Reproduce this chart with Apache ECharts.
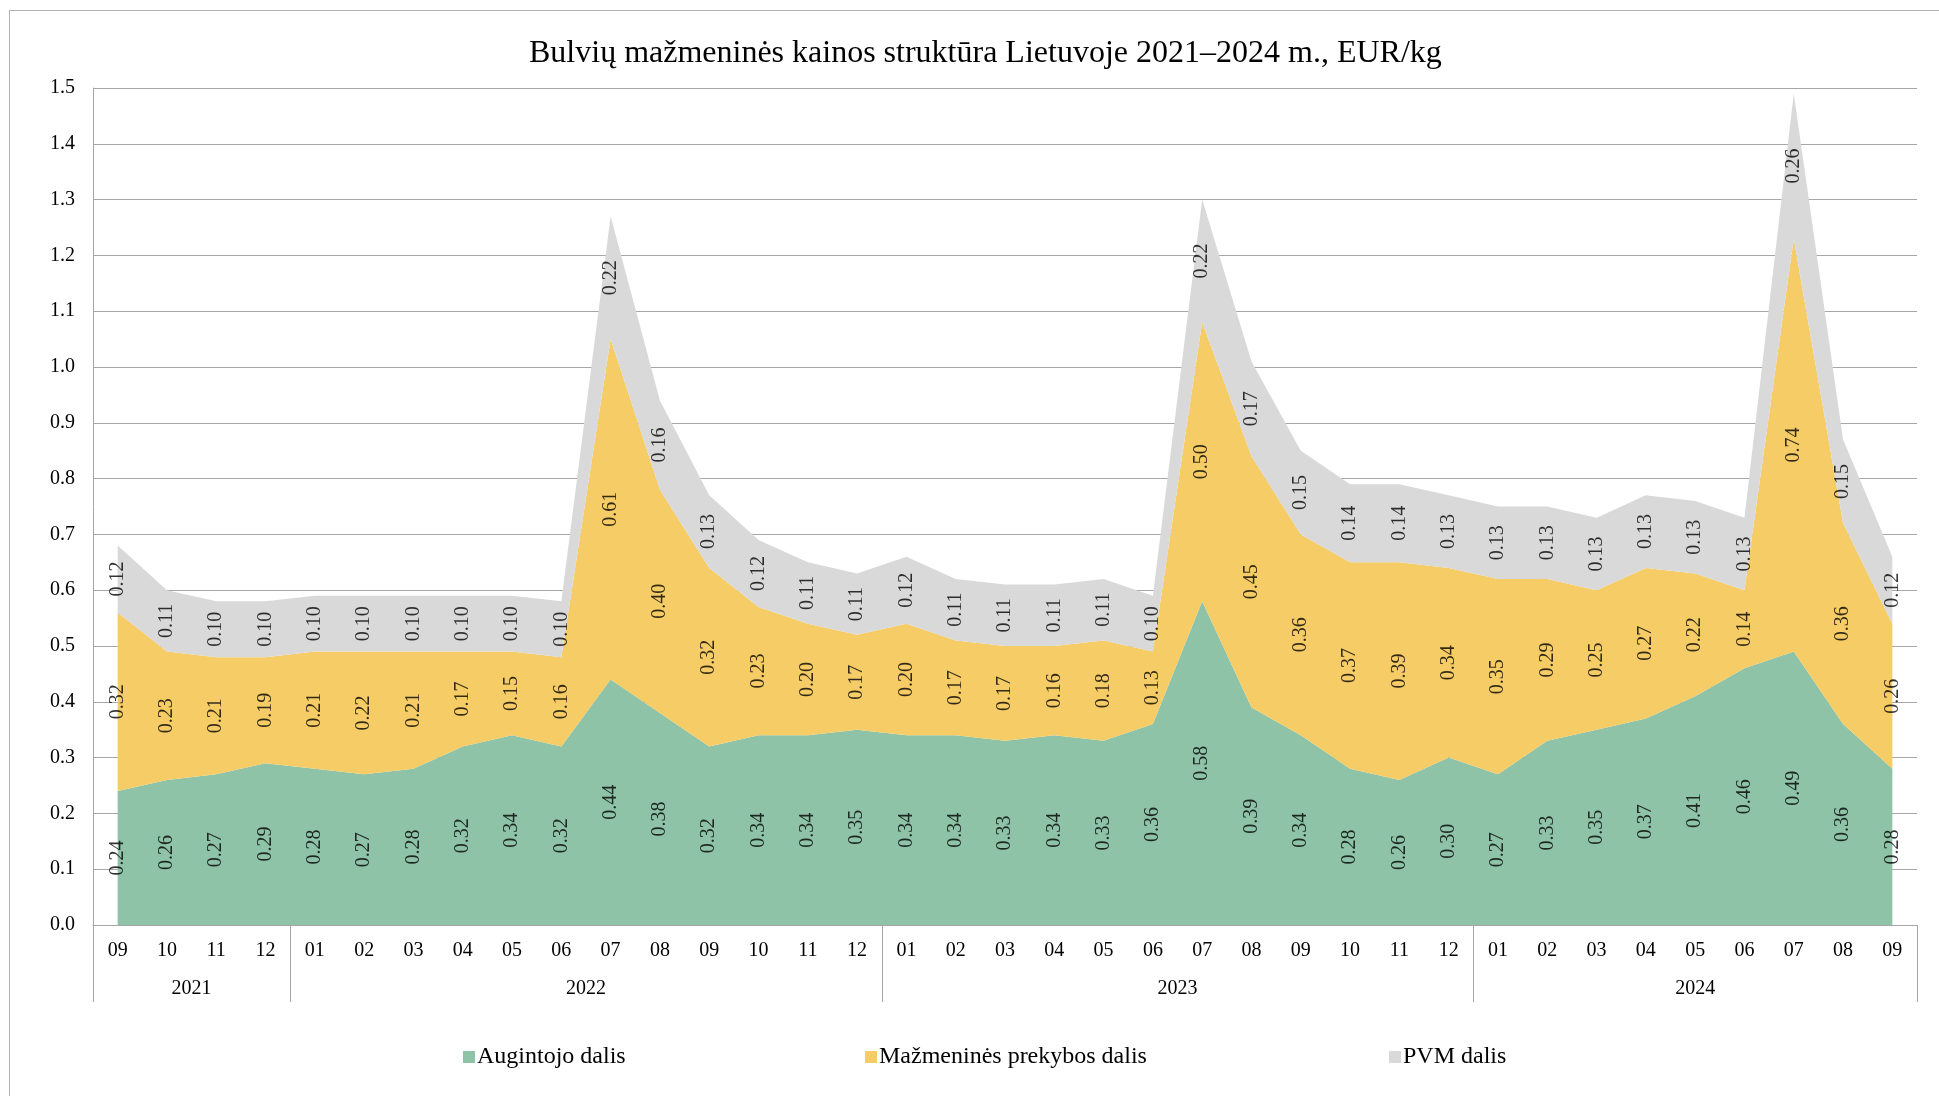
<!DOCTYPE html>
<html>
<head>
<meta charset="utf-8">
<script src="https://cdn.jsdelivr.net/npm/echarts@6/dist/echarts.min.js"></script>
<style>
  html, body { margin: 0; padding: 0; background: #fff; }
  #chart { width: 1939px; height: 1096px; }
  .frame {
    position: absolute; left: 9px; top: 10px; right: -2px; bottom: -2px;
    border-left: 1px solid #b3b3b3; border-top: 1px solid #b3b3b3;
    pointer-events: none;
  }
</style>
</head>
<body>
<div id="chart"></div>
<div class="frame"></div>
<script>
const months = [
  '09', '10', '11', '12',
  '01', '02', '03', '04', '05', '06', '07', '08', '09', '10', '11', '12',
  '01', '02', '03', '04', '05', '06', '07', '08', '09', '10', '11', '12',
  '01', '02', '03', '04', '05', '06', '07', '08', '09'
]
const years = ['2021', '2022', '2023', '2024']
const monthsPerYear = [4, 12, 12, 9]

const grower = [
  0.24, 0.26, 0.27, 0.29,
  0.28, 0.27, 0.28, 0.32, 0.34, 0.32, 0.44, 0.38, 0.32, 0.34, 0.34, 0.35,
  0.34, 0.34, 0.33, 0.34, 0.33, 0.36, 0.58, 0.39, 0.34, 0.28, 0.26, 0.30,
  0.27, 0.33, 0.35, 0.37, 0.41, 0.46, 0.49, 0.36, 0.28
]
const retail = [
  0.32, 0.23, 0.21, 0.19,
  0.21, 0.22, 0.21, 0.17, 0.15, 0.16, 0.61, 0.40, 0.32, 0.23, 0.20, 0.17,
  0.20, 0.17, 0.17, 0.16, 0.18, 0.13, 0.50, 0.45, 0.36, 0.37, 0.39, 0.34,
  0.35, 0.29, 0.25, 0.27, 0.22, 0.14, 0.74, 0.36, 0.26
]
const vat = [
  0.12, 0.11, 0.10, 0.10,
  0.10, 0.10, 0.10, 0.10, 0.10, 0.10, 0.22, 0.16, 0.13, 0.12, 0.11, 0.11,
  0.12, 0.11, 0.11, 0.11, 0.11, 0.10, 0.22, 0.17, 0.15, 0.14, 0.14, 0.13,
  0.13, 0.13, 0.13, 0.13, 0.13, 0.13, 0.26, 0.15, 0.12
]

const names = ['Augintojo dalis', 'Mažmeninės prekybos dalis', 'PVM dalis']
const colors = ['#8ec3a7', '#f5cc65', '#d9d9d9']
const font = 'Liberation Serif, Times New Roman, serif'
const gridColor = '#a6a6a6'

// year row: half-month slots, so group edges and centres land on slots
const yearSlots = new Array(months.length * 2 + 1).fill('')
const yearTicks = [0]
let start = 0
years.forEach((y, i) => {
  yearSlots[start * 2 + monthsPerYear[i]] = y
  start += monthsPerYear[i]
  yearTicks.push(start * 2)
})

const chart = echarts.init(document.getElementById('chart'))

const areaSeries = (name, data, color) => ({
  name,
  type: 'line',
  stack: 'total',
  data,
  symbol: 'none',
  lineStyle: { width: 0 },
  itemStyle: { color },
  areaStyle: { color, opacity: 1 },
  z: 2
})

// labels sit in the middle of each band
const labelSeries = (values, bases) => ({
  type: 'scatter',
  data: values.map((v, i) => [i, bases[i] + v / 2, v]),
  symbolSize: 1,
  itemStyle: { color: 'rgba(0,0,0,0)' },
  silent: true,
  z: 5,
  label: {
    show: true,
    position: 'inside',
    rotate: 90,
    fontFamily: font,
    fontSize: 20,
    color: '#000',
    formatter: (p) => p.value[2].toFixed(2)
  }
})

const zeros = grower.map(() => 0)
const retailBase = grower.slice()
const vatBase = grower.map((g, i) => g + retail[i])

const legendAt = (i, left) => ({
  data: [names[i]],
  left,
  top: 1040,
  icon: 'rect',
  itemWidth: 12,
  itemHeight: 12,
  itemGap: 5,
  textStyle: { fontFamily: font, fontSize: 24, color: '#000', padding: [0, 0, 0, -3] }
})

chart.setOption({
  animation: false,
  backgroundColor: '#fff',
  title: {
    text: 'Bulvių mažmeninės kainos struktūra Lietuvoje 2021–2024 m., EUR/kg',
    left: 524,
    top: 33,
    textStyle: { fontFamily: font, fontSize: 32, fontWeight: 'normal', color: '#000' }
  },
  legend: [legendAt(0, 458), legendAt(1, 860), legendAt(2, 1384)],
  grid: { left: 93, right: 22, top: 88, bottom: 171 },
  xAxis: [
    {
      type: 'category',
      data: months,
      boundaryGap: true,
      axisLine: { lineStyle: { color: gridColor } },
      axisTick: { show: false },
      axisLabel: { fontFamily: font, fontSize: 20, color: '#000', margin: 16, interval: 0 },
      splitLine: { show: false }
    },
    {
      type: 'category',
      data: yearSlots,
      boundaryGap: false,
      position: 'bottom',
      axisLine: { show: false },
      axisTick: {
        show: true,
        length: 77,
        interval: (idx) => yearTicks.includes(idx),
        lineStyle: { color: gridColor }
      },
      axisLabel: { fontFamily: font, fontSize: 20, color: '#000', margin: 54, interval: 0 },
      splitLine: { show: false }
    }
  ],
  yAxis: {
    type: 'value',
    min: 0,
    max: 1.5,
    interval: 0.1,
    axisLine: { show: true, lineStyle: { color: gridColor } },
    axisTick: { show: false },
    axisLabel: {
      fontFamily: font, fontSize: 20, color: '#000', margin: 18,
      formatter: (v) => v.toFixed(1)
    },
    splitLine: { lineStyle: { color: gridColor } }
  },
  series: [
    areaSeries(names[0], grower, colors[0]),
    areaSeries(names[1], retail, colors[1]),
    areaSeries(names[2], vat, colors[2]),
    labelSeries(grower, zeros),
    labelSeries(retail, retailBase),
    labelSeries(vat, vatBase)
  ]
})
</script>
</body>
</html>
